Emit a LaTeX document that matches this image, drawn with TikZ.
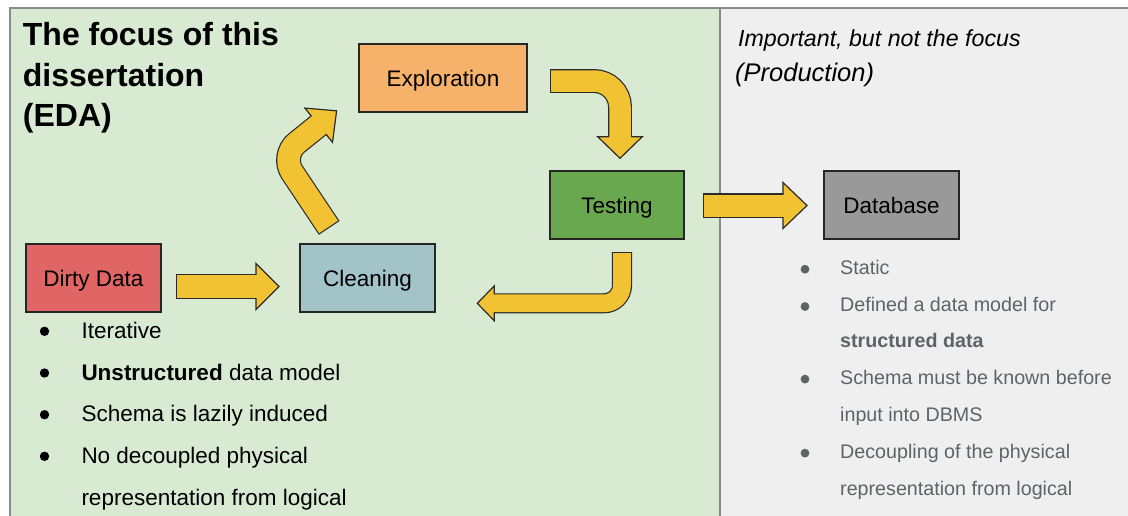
\documentclass[tikz,border=0pt]{standalone}
\usepackage{fontspec}
\setmainfont{Liberation Sans}
\usetikzlibrary{calc}
\definecolor{greenbg}{HTML}{D9EAD3}
\definecolor{graybg}{HTML}{EFEFEF}
\definecolor{panelline}{HTML}{8A8A8A}
\definecolor{dirtyc}{HTML}{E06666}
\definecolor{cleanc}{HTML}{A2C4C9}
\definecolor{explc}{HTML}{F6B26B}
\definecolor{testc}{HTML}{6AA84F}
\definecolor{dbc}{HTML}{999999}
\definecolor{arrowfill}{HTML}{F1C232}
\definecolor{arrowedge}{HTML}{2B2B2B}
\definecolor{graytext}{HTML}{5F6368}
\newcommand\blockarrow[6]{%
  \draw[line width=#2, draw=arrowedge, line cap=butt] #3;
  \filldraw[fill=arrowfill, draw=arrowedge, line width=1.2pt, line join=miter] #4 -- #5 -- #6 -- cycle;
  \draw[line width=#1, draw=arrowfill, line cap=butt, shorten <=1.2pt, shorten >=-2pt] #3;
}
\begin{document}
\begin{tikzpicture}[x=1pt,y=-1pt,
  stagebox/.style={draw=black!85, line width=1.3pt, minimum height=68pt, inner sep=0pt,
    text height=16pt, text depth=0pt, font=\fontsize{22.5}{27}\selectfont},
  lbul/.style={anchor=base west, inner sep=0pt, font=\fontsize{22.5}{27}\selectfont},
  rbul/.style={anchor=base west, inner sep=0pt, text=graytext, font=\fontsize{19.7}{24}\selectfont},
  titletext/.style={anchor=base west, inner sep=0pt, font=\fontsize{32}{38}\selectfont\bfseries},
  sidetext/.style={anchor=base west, inner sep=0pt, font=\itshape}]
\useasboundingbox (0,0) rectangle (1128,515);
\clip (0,0) rectangle (1128,515);
% panels
\fill[greenbg] (10,8) rectangle (720,530);
\fill[graybg] (720,8) rectangle (1140,530);
\draw[panelline, line width=1.5pt] (10,530) -- (10,8) -- (1140,8);
\draw[panelline, line width=1.5pt] (720,8) -- (720,530);
% titles
\node[titletext] (t1) at (22.7,45.7) {The focus of this};
\node[titletext] (t2) at (22.7,86.2) {dissertation};
\node[titletext] (t3) at (22.7,126.7) {(EDA)};
\node[sidetext, font=\itshape\fontsize{23.2}{28}\selectfont] (s1) at (738,46.7) {Important, but not the focus};
\node[sidetext, font=\itshape\fontsize{25.5}{30}\selectfont] (s2) at (735,81.7) {(Production)};
% stage boxes
\node[stagebox, fill=dirtyc, minimum width=135pt] (dirty) at (93.5,278) {Dirty Data};
\node[stagebox, fill=cleanc, minimum width=135pt] (clean) at (367.5,278) {Cleaning};
\node[stagebox, fill=explc, minimum width=168pt] (expl) at (443,78) {Exploration};
\node[stagebox, fill=testc, minimum width=134pt] (test) at (617,205) {Testing};
\node[stagebox, fill=dbc, minimum width=135pt] (db) at (891.5,205) {Database};
% block arrows
\blockarrow{23pt}{25.4pt}{(176,286.5) -- (256,286.5)}{(256,263.5)}{(279,286.5)}{(256,309.5)}
\blockarrow{22.5pt}{24.9pt}{[rounded corners=20pt] (329.2,227.9) -- (281,155.6) -- (318.7,125.2)}{(304.9,108.1)}{(336.6,110.8)}{(332.5,142.3)}
\blockarrow{21.5pt}{23.9pt}{[rounded corners=26pt] (550,81) -- (620,81) -- (620,136.7)}{(597.7,136.7)}{(620,158.3)}{(642.3,136.7)}
\blockarrow{17.7pt}{20.1pt}{[rounded corners=18pt] (622,252) -- (622,303.3) -- (494.3,303.3)}{(494.3,285.8)}{(477.3,303.3)}{(494.3,320.8)}
\blockarrow{22pt}{24.4pt}{(703,205.5) -- (783,205.5)}{(783,182.5)}{(807,205.5)}{(783,228.5)}
% left bullets
\foreach \yy in {331.3,373,414.7,456.3} \fill (44.5,\yy) circle[radius=4.7pt];
\node[lbul] (l1) at (81.3,338.3) {Iterative};
\node[lbul] (l2) at (81.3,380) {{\bfseries Unstructured} data model};
\node[lbul] (l3) at (81.3,421.7) {Schema is lazily induced};
\node[lbul] (l4) at (81.3,463.3) {No decoupled physical};
\node[lbul] (l5) at (81.3,505) {representation from logical};
% right bullets
\foreach \yy in {269.2,306.5,379.1,453.1} \fill[graytext] (805,\yy) circle[radius=4.4pt];
\node[rbul] (r1) at (840,274.3) {Static};
\node[rbul] (r2) at (840,311.7) {Defined a data model for};
\node[rbul] (r3) at (840,347.7) {\bfseries structured data};
\node[rbul] (r4) at (840,384.3) {Schema must be known before};
\node[rbul] (r5) at (840,421) {input into DBMS};
\node[rbul] (r6) at (840,458.3) {Decoupling of the physical};
\node[rbul] (r7) at (840,495) {representation from logical};
\end{tikzpicture}
\end{document}
